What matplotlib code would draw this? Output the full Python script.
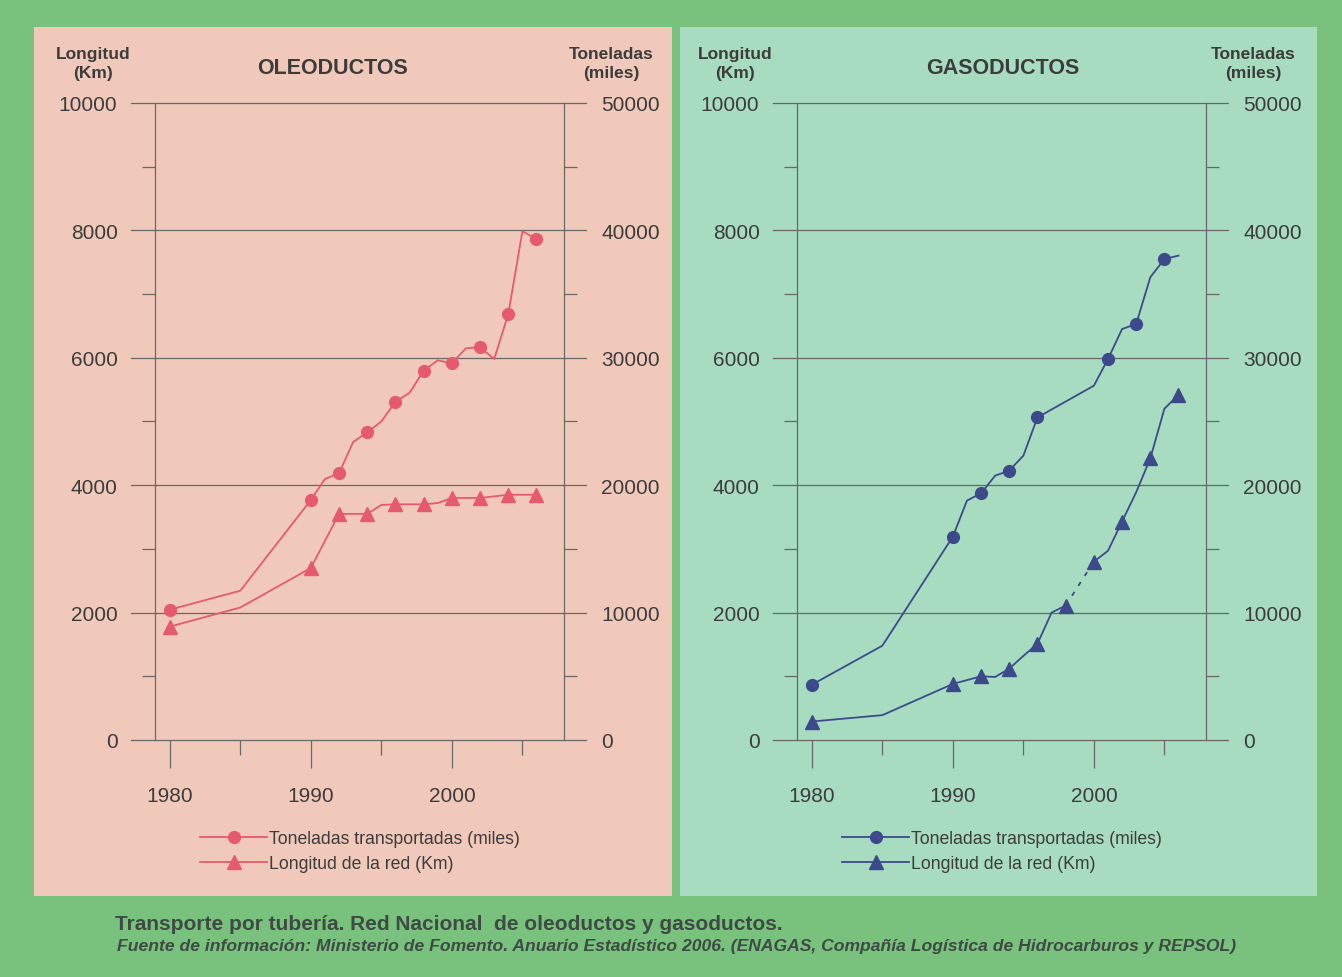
import matplotlib
matplotlib.use("Agg")
import matplotlib.pyplot as plt
from matplotlib.patches import Rectangle
from matplotlib.lines import Line2D
from matplotlib.ticker import FixedLocator

plt.rcParams["font.family"] = ["Liberation Sans", "DejaVu Sans"]

W, H = 1342, 978

# OLEODUCTOS
oil_ton_years = [1980, 1985, 1990, 1991, 1992, 1993, 1994, 1995, 1996, 1997,
                 1998, 1999, 2000, 2001, 2002, 2003, 2004, 2005, 2006]
oil_ton = [10230, 11720, 18840, 20490, 20940, 23390, 24150, 25000, 26560, 27250,
           28990, 29800, 29570, 30750, 30830, 29900, 33440, 39930, 39330]
oil_ton_marks = [1980, 1990, 1992, 1994, 1996, 1998, 2000, 2002, 2004, 2006]

oil_len_years = [1980, 1985, 1990, 1992, 1994, 1995, 1996, 1998, 1999, 2000,
                 2002, 2004, 2006]
oil_len = [1780, 2080, 2700, 3550, 3550, 3690, 3700, 3700, 3720, 3800,
           3800, 3850, 3850]
oil_len_marks = [1980, 1990, 1992, 1994, 1996, 1998, 2000, 2002, 2004, 2006]

# GASODUCTOS
gas_ton_years = [1980, 1985, 1990, 1991, 1992, 1993, 1994, 1995, 1996, 2000,
                 2001, 2002, 2003, 2004, 2005, 2006]
gas_ton = [4340, 7400, 15960, 18790, 19360, 20750, 21140, 22320, 25320, 27810,
           29900, 32260, 32650, 36320, 37750, 38020]
gas_ton_marks = [1980, 1990, 1992, 1994, 1996, 2001, 2003, 2005]

gas_len_years = [1980, 1985, 1990, 1992, 1993, 1994, 1995, 1996, 1997, 1998,
                 2000, 2001, 2002, 2003, 2004, 2005, 2006]
gas_len = [290, 390, 880, 1000, 990, 1120, 1320, 1510, 2000, 2110,
           2800, 2970, 3430, 3890, 4420, 5200, 5420]
gas_len_marks = [1980, 1990, 1992, 1994, 1996, 1998, 2000, 2002, 2004, 2006]
gas_len_gap = 1998  # tramo discontinuo 1998-2000

legend_labels = ["Toneladas transportadas (miles)", "Longitud de la red (Km)"]

GREEN = "#78c27e"
GRID = "#686868"
TXT = "#3c3c3c"


def fx(px):
    return px / W


def fy(py):
    return 1 - py / H


fig = plt.figure(figsize=(W / 100, H / 100), dpi=100)
fig.patch.set_facecolor(GREEN)


def panel(bg_box, bg, box_left, title_x, color, title, ton_years, ton,
          ton_marks, len_years, length, len_marks, gap=None):
    x0, y0, x1, y1 = bg_box
    fig.patches.append(Rectangle((fx(x0), fy(y1)), (x1 - x0) / W, (y1 - y0) / H,
                                 transform=fig.transFigure, facecolor=bg,
                                 edgecolor="none", zorder=-1))
    ax = fig.add_axes([fx(box_left), fy(741), 409 / W, 637 / H])
    ax.set_facecolor("none")
    ax.set_xlim(1978.95, 2007.95)
    ax.set_ylim(0, 10000)
    ax2 = ax.twinx()
    ax2.set_ylim(0, 50000)

    for s in ("top", "bottom"):
        ax.spines[s].set_visible(False)
    for s in ("left", "right"):
        ax.spines[s].set_color(GRID)
        ax.spines[s].set_linewidth(0.9)
    for s in ax2.spines.values():
        s.set_visible(False)

    for y in range(0, 10001, 2000):
        ax.plot([-0.058, 1.055], [y, y], transform=ax.get_yaxis_transform(),
                clip_on=False, color=GRID, lw=0.9, zorder=1)

    ax.set_yticks(range(0, 10001, 2000))
    ax.yaxis.set_minor_locator(FixedLocator(range(1000, 10000, 2000)))
    ax2.set_yticks(range(0, 50001, 10000))
    ax2.yaxis.set_minor_locator(FixedLocator(range(5000, 50000, 10000)))
    for a in (ax, ax2):
        a.tick_params(axis="y", which="major", length=0, pad=27,
                      labelsize=15, labelcolor=TXT)
        a.tick_params(axis="y", which="minor", length=9.5, width=0.9,
                      color=GRID, direction="out")

    ax.set_xticks([1980, 1990, 2000])
    ax.xaxis.set_minor_locator(FixedLocator([1985, 1995, 2005]))
    ax.tick_params(axis="x", which="major", length=20, width=0.9, color=GRID,
                   pad=13, labelsize=15, labelcolor=TXT)
    ax.tick_params(axis="x", which="minor", length=11, width=0.9, color=GRID)

    lw = 1.3
    ax2.plot(ton_years, ton, color=color, lw=lw, marker="o", ms=8.5,
             markevery=[y in ton_marks for y in ton_years], zorder=3)

    if gap is None:
        ax.plot(len_years, length, color=color, lw=lw, marker="^", ms=9.5,
                markevery=[y in len_marks for y in len_years], zorder=3)
    else:
        i = len_years.index(gap)
        for ys, vs in ((len_years[:i + 1], length[:i + 1]),
                       (len_years[i + 1:], length[i + 1:])):
            ax.plot(ys, vs, color=color, lw=lw, marker="^", ms=9.5,
                    markevery=[y in len_marks for y in ys], zorder=3)
        ax.plot(len_years[i:i + 2], length[i:i + 2], color=color, lw=lw,
                ls=(0, (2.5, 4)), zorder=3)

    # textos de cabecera
    fig.text(fx(title_x), fy(68), title, ha="center", va="center", fontsize=15.5,
             fontweight="bold", color=TXT)
    fig.text(fx(box_left - 62), fy(64), "Longitud\n(Km)", ha="center",
             va="center", fontsize=12.5, fontweight="bold", color=TXT,
             linespacing=1.3)
    fig.text(fx(box_left + 456), fy(64), "Toneladas\n(miles)", ha="center",
             va="center", fontsize=12.5, fontweight="bold", color=TXT,
             linespacing=1.3)

    handles = [Line2D([], [], color=color, lw=lw, marker="o", ms=8.5),
               Line2D([], [], color=color, lw=lw, marker="^", ms=9.5)]
    leg = fig.legend(handles, legend_labels, loc="upper left",
                     bbox_to_anchor=(fx(box_left + 45), fy(831)),
                     frameon=False, fontsize=12.7, handlelength=3.8,
                     handletextpad=0.1, labelspacing=0.45, borderpad=0,
                     borderaxespad=0)
    for t in leg.get_texts():
        t.set_color(TXT)
    return ax


panel((34, 28, 672, 897), "#f1c9bb", 155, 332, "#e65a6e", "OLEODUCTOS",
      oil_ton_years, oil_ton, oil_ton_marks,
      oil_len_years, oil_len, oil_len_marks)
panel((680, 28, 1317, 897), "#a8dcc0", 797, 1003, "#3c4a8c", "GASODUCTOS",
      gas_ton_years, gas_ton, gas_ton_marks,
      gas_len_years, gas_len, gas_len_marks, gap=gas_len_gap)

fig.text(fx(115), fy(925),
         "Transporte por tubería. Red Nacional  de oleoductos y gasoductos.",
         ha="left", va="center", fontsize=15, fontweight="bold",
         color="#3f4a44")
fig.text(fx(117), fy(947),
         "Fuente de información: Ministerio de Fomento. Anuario Estadístico 2006. "
         "(ENAGAS, Compañía Logística de Hidrocarburos y REPSOL)",
         ha="left", va="center", fontsize=12.6, fontweight="bold",
         fontstyle="italic", color="#3f4a44")

fig.savefig("out.png", dpi=100, facecolor=fig.get_facecolor())
